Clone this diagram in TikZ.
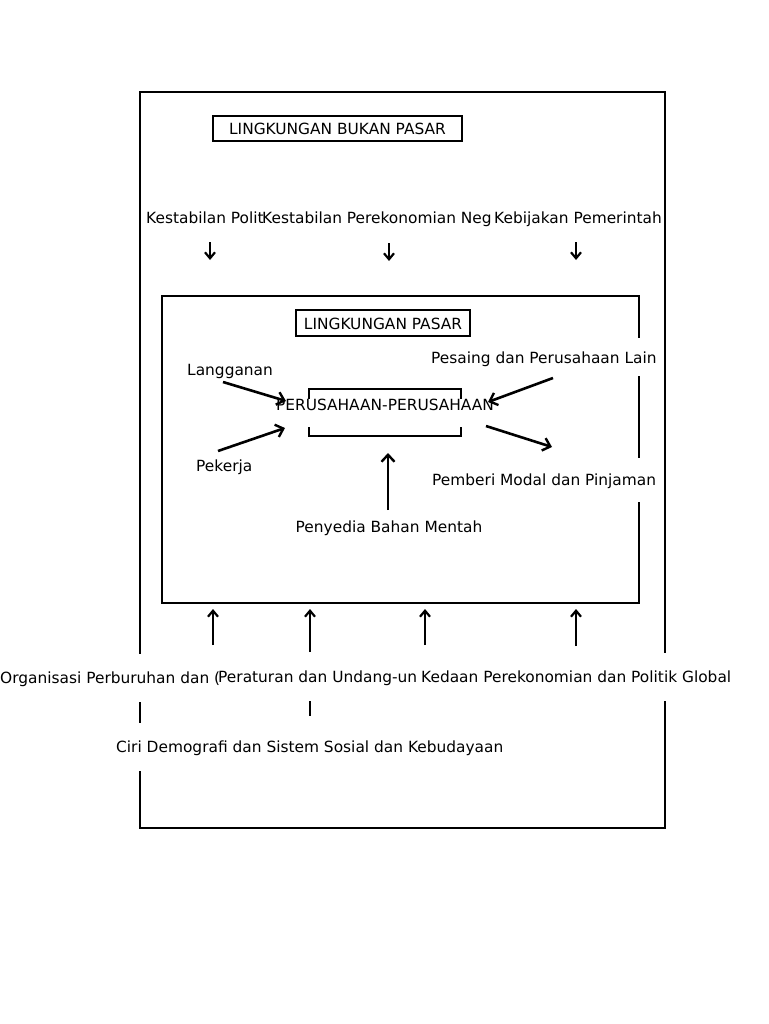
\documentclass[tikz,border=0pt]{standalone}
\usepackage{fontspec}
\setmainfont{DejaVu Sans}
\usetikzlibrary{arrows.meta}
\begin{document}
\begin{tikzpicture}[x=1pt,y=-1pt,
  lbl/.style={font=\fontsize{15.4}{18}\selectfont, inner sep=0pt, anchor=base west},
  clbl/.style={font=\fontsize{15.4}{18}\selectfont, inner sep=0pt, anchor=base},
  frame/.style={line width=2.8pt, line cap=rect},
  thin/.style={line width=2.4pt, line cap=rect},
  arr/.style={line width=2.6pt, -{Straight Barb[length=7pt,width=13pt,line width=2.4pt]}},
  sarr/.style={line width=2.4pt, -{Straight Barb[length=6pt,width=10pt,line width=2.2pt]}}
]
\useasboundingbox (0,0) rectangle (768,1024);

% outer frame (with gaps)
\draw[frame] (140,653) -- (140,92) -- (665,92) -- (665,652);
\draw[frame] (140,703) -- (140,722);
\draw[frame] (140,772) -- (140,828) -- (665,828) -- (665,702);

% title box
\draw[thin] (213,116) rectangle (462,141);
\node[clbl] (tbukan) at (337.5,135) {LINGKUNGAN BUKAN PASAR};

% top labels
\node[lbl] (tpol) at (146,223) {Kestabilan Polit};
\node[lbl] (teko) at (262,223) {Kestabilan Perekonomian Neg};
\node[lbl] (tkeb) at (494,223) {Kebijakan Pemerintah};

% top arrows
\coordinate (a1s) at (210,242); \coordinate (a1e) at (210,260);
\coordinate (a2s) at (389,243); \coordinate (a2e) at (389,261);
\coordinate (a3s) at (576,242); \coordinate (a3e) at (576,260);
\draw[sarr] (a1s) -- (a1e);
\draw[sarr] (a2s) -- (a2e);
\draw[sarr] (a3s) -- (a3e);

% inner frame (with gaps on right)
\draw[thin] (639,337) -- (639,296) -- (162,296) -- (162,603) -- (639,603) -- (639,503);
\draw[thin] (639,377) -- (639,457);

% market box
\draw[thin] (296,310) rectangle (470,336);
\node[clbl] (tpasar) at (383,329) {LINGKUNGAN PASAR};

% firms bracket box
\draw[thin] (309,398) -- (309,389) -- (461,389) -- (461,398);
\draw[thin] (309,428) -- (309,436) -- (461,436) -- (461,428);
\node[clbl] (firm) at (385,410) {PERUSAHAAN-PERUSAHAAN};

% inner labels
\node[lbl] (lang) at (187,375) {Langganan};
\node[lbl] (pek) at (196,471) {Pekerja};
\node[lbl] (pes) at (431,363) {Pesaing dan Perusahaan Lain};
\node[lbl] (pem) at (432,485) {Pemberi Modal dan Pinjaman};
\node[clbl] (pen) at (389,532) {Penyedia Bahan Mentah};

% inner arrows
\coordinate (l1) at (223,382); \coordinate (l2) at (286,401);
\coordinate (k1) at (218,451); \coordinate (k2) at (285,428);
\coordinate (p1) at (553,378); \coordinate (p2) at (488,402);
\coordinate (m1) at (486,426); \coordinate (m2) at (552,447);
\coordinate (b1) at (388,510); \coordinate (b2) at (388,453);
\draw[arr] (l1) -- (l2);
\draw[arr] (k1) -- (k2);
\draw[arr] (p1) -- (p2);
\draw[arr] (m1) -- (m2);
\draw[arr] (b1) -- (b2);

% bottom arrows
\coordinate (u1s) at (213,645); \coordinate (u1e) at (213,609);
\coordinate (u2s) at (310,652); \coordinate (u2e) at (310,609);
\coordinate (u3s) at (425,645); \coordinate (u3e) at (425,609);
\coordinate (u4s) at (576,646); \coordinate (u4e) at (576,609);
\draw[sarr] (u1s) -- (u1e);
\draw[sarr] (u2s) -- (u2e);
\draw[sarr] (u3s) -- (u3e);
\draw[sarr] (u4s) -- (u4e);
\coordinate (s1) at (310,702); \coordinate (s2) at (310,715);
\draw[thin] (s1) -- (s2);

% bottom labels
\node[lbl] (borg) at (0,683) {Organisasi Perburuhan dan (};
\node[lbl] (bper) at (218,682) {Peraturan dan Undang-un};
\node[lbl] (bked) at (421,682) {Kedaan Perekonomian dan Politik Global};
\node[lbl] (bciri) at (116,752) {Ciri Demografi dan Sistem Sosial dan Kebudayaan};
\end{tikzpicture}
\end{document}
